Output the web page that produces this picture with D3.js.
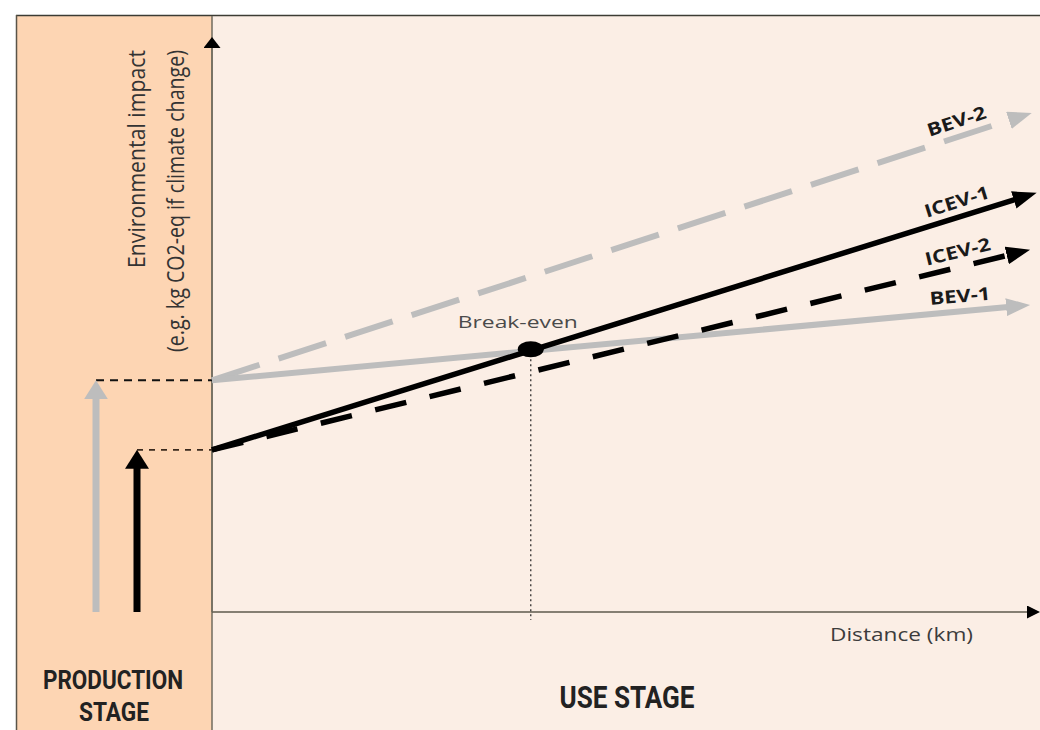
<!DOCTYPE html>
<html>
<head>
<meta charset="utf-8">
<script src="https://cdn.jsdelivr.net/npm/d3@7"></script>
<style>
body { margin: 0; background: #fff; }
svg { display: block; }
</style>
</head>
<body>
<div id="chart"></div>
<script>
// use stage series: distance (0-100) vs impact (0-100), all start at the production value
var seriesNames = ["BEV-1", "BEV-2", "ICEV-1", "ICEV-2"];
var seriesType = ["BEV", "BEV", "ICEV", "ICEV"];
var endDistance = [98.8, 99.0, 99.6, 98.8];
var endImpact = [53.4, 86.8, 72.9, 63.0];

// production stage impact per vehicle type
var productionTypes = ["BEV", "ICEV"];
var productionImpact = [40.3, 28.2];

// break-even point (distance, impact)
var breakEven = [38.5, 45.7];

// styles, kept apart from the values
var seriesStyle = {
  "BEV-1": { color: "#bdbdbd", dash: null, width: 6 },
  "BEV-2": { color: "#bdbdbd", dash: "50,20", width: 6 },
  "ICEV-1": { color: "#000", dash: null, width: 5.5 },
  "ICEV-2": { color: "#000", dash: "32,24", width: 5.5 }
};
var labelLength = { "BEV-1": 61, "BEV-2": 61, "ICEV-1": 67, "ICEV-2": 67 };

var svgWidth = 1040;
var svgHeight = 730;
var panelTop = 16;
var panelLeft = 17;
var divider = 212;

var svg = d3.select("#chart")
  .append("svg")
  .attr("width", svgWidth)
  .attr("height", svgHeight);

//scales
var xScale = d3.scaleLinear().domain([0, 100]).range([divider, 1040]);
var yScale = d3.scaleLinear().domain([0, 100]).range([612, 37]);
var prodX = d3.scalePoint().domain(productionTypes).range([96, 137]);

var defs = svg.append("defs");
function addMarker(id, color, w, h, refX) {
  defs.append("marker")
    .attr("id", id)
    .attr("viewBox", `0 0 ${w} ${h}`)
    .attr("markerWidth", w)
    .attr("markerHeight", h)
    .attr("refX", refX)
    .attr("refY", h / 2)
    .attr("orient", "auto")
    .attr("markerUnits", "userSpaceOnUse")
    .append("path")
    .attr("d", `M0,0 L${w},${h / 2} L0,${h} Z`)
    .attr("fill", color);
}
addMarker("headGray", "#bdbdbd", 24, 18, 10);
addMarker("headBlack", "#000", 24, 18, 10);
addMarker("prodGray", "#bdbdbd", 19, 24, 5);
addMarker("prodBlack", "#000", 19, 24, 5);
addMarker("axisHead", "#000", 13, 13, 1);
addMarker("axisHeadY", "#000", 11, 17, 1);

//panels
svg.append("rect")
  .attr("x", panelLeft).attr("y", panelTop)
  .attr("width", divider - panelLeft).attr("height", svgHeight - panelTop)
  .attr("fill", "#fdd5b3");
svg.append("rect")
  .attr("x", divider).attr("y", panelTop)
  .attr("width", svgWidth - divider).attr("height", svgHeight - panelTop)
  .attr("fill", "#fbeee5");

svg.append("line")
  .attr("x1", panelLeft - 1).attr("x2", svgWidth)
  .attr("y1", panelTop - 0.5).attr("y2", panelTop - 0.5)
  .attr("stroke", "#3c3c34").attr("stroke-width", 1.6);
svg.append("line")
  .attr("x1", panelLeft - 0.5).attr("x2", panelLeft - 0.5)
  .attr("y1", panelTop - 1).attr("y2", svgHeight)
  .attr("stroke", "#5a5448").attr("stroke-width", 1.5);
svg.append("line")
  .attr("x1", divider).attr("x2", divider)
  .attr("y1", panelTop).attr("y2", svgHeight)
  .attr("stroke", "#716b5e").attr("stroke-width", 1.5);

//axes
svg.append("line")
  .attr("x1", xScale(0)).attr("x2", xScale(100) - 12)
  .attr("y1", yScale(0)).attr("y2", yScale(0))
  .attr("stroke", "#5e5a4c").attr("stroke-width", 1.5)
  .attr("marker-end", "url(#axisHead)");
svg.append("line")
  .attr("x1", xScale(0)).attr("x2", xScale(0))
  .attr("y1", yScale(0)).attr("y2", yScale(100) + 10)
  .attr("stroke", "#716b5e").attr("stroke-width", 1.5)
  .attr("marker-end", "url(#axisHeadY)");

//break-even guide
svg.append("line")
  .attr("x1", xScale(breakEven[0])).attr("x2", xScale(breakEven[0]))
  .attr("y1", yScale(breakEven[1])).attr("y2", yScale(0) + 8)
  .attr("stroke", "#222").attr("stroke-width", 1.2)
  .attr("stroke-dasharray", "2,3");

//production stage arrows and connectors
productionTypes.forEach(function(t, i) {
  var x = prodX(t);
  var y = yScale(productionImpact[i]);
  svg.append("line")
    .attr("x1", x).attr("x2", xScale(0))
    .attr("y1", y).attr("y2", y)
    .attr("stroke", t === "BEV" ? "#111" : "#3a2a1e")
    .attr("stroke-width", t === "BEV" ? 2 : 1.6)
    .attr("stroke-dasharray", t === "BEV" ? "8,6" : "6,6");
  svg.append("line")
    .attr("x1", x).attr("x2", x)
    .attr("y1", yScale(0)).attr("y2", y + 14)
    .attr("stroke", t === "BEV" ? "#bdbdbd" : "#000")
    .attr("stroke-width", 7)
    .attr("marker-end", t === "BEV" ? "url(#prodGray)" : "url(#prodBlack)");
});

//use stage lines, drawn back to front
var order = [1, 0, 3, 2];
order.forEach(function(i) {
  var name = seriesNames[i];
  var st = seriesStyle[name];
  var start = productionImpact[productionTypes.indexOf(seriesType[i])];
  var x0 = xScale(0), y0 = yScale(start);
  var x1 = xScale(endDistance[i]), y1 = yScale(endImpact[i]);
  var len = Math.hypot(x1 - x0, y1 - y0);
  var ux = (x1 - x0) / len, uy = (y1 - y0) / len;
  svg.append("line")
    .attr("x1", x0).attr("y1", y0)
    .attr("x2", x1 - ux * 14).attr("y2", y1 - uy * 14)
    .attr("stroke", st.color)
    .attr("stroke-width", st.width)
    .attr("stroke-dasharray", st.dash)
    .attr("marker-end", st.color === "#000" ? "url(#headBlack)" : "url(#headGray)");

  // label above the line near its end
  var lx = xScale(90.5);
  var ly = y0 + (lx - x0) * (y1 - y0) / (x1 - x0);
  var angle = Math.atan2(y1 - y0, x1 - x0) * 180 / Math.PI;
  svg.append("text")
    .attr("transform", `translate(${lx},${ly}) rotate(${angle})`)
    .attr("y", -9)
    .attr("text-anchor", "middle")
    .attr("font-family", "'Open Sans', sans-serif")
    .attr("font-weight", "bold")
    .attr("font-size", 18)
    .attr("fill", "#1a1a1a")
    .attr("textLength", labelLength[name])
    .attr("lengthAdjust", "spacingAndGlyphs")
    .text(name);
});

//break-even point
svg.append("ellipse")
  .attr("cx", xScale(breakEven[0]))
  .attr("cy", yScale(breakEven[1]))
  .attr("rx", 13).attr("ry", 8)
  .attr("fill", "#000");
svg.append("text")
  .attr("x", xScale(breakEven[0]) - 13)
  .attr("y", 328)
  .attr("text-anchor", "middle")
  .attr("font-family", "'Open Sans', sans-serif")
  .attr("font-size", 17)
  .attr("fill", "#4a4a4a")
  .attr("textLength", 120)
  .attr("lengthAdjust", "spacingAndGlyphs")
  .text("Break-even");

//axis labels
svg.append("text")
  .attr("x", 830).attr("y", 641)
  .attr("font-family", "'Open Sans', sans-serif")
  .attr("font-size", 19)
  .attr("fill", "#3c3c3c")
  .attr("textLength", 143)
  .attr("lengthAdjust", "spacingAndGlyphs")
  .text("Distance (km)");

var yLabels = [
  { text: "Environmental impact", x: 145, len: 218 },
  { text: "(e.g. kg CO2-eq if climate change)", x: 184, len: 302 }
];
yLabels.forEach(function(l) {
  svg.append("text")
    .attr("transform", `translate(${l.x},50) rotate(-90)`)
    .attr("text-anchor", "end")
    .attr("font-family", "'Open Sans', sans-serif")
    .attr("font-size", 24)
    .attr("fill", "#333")
    .attr("textLength", l.len)
    .attr("lengthAdjust", "spacingAndGlyphs")
    .text(l.text);
});

//stage labels
var stageLabels = [
  { text: "PRODUCTION", x: 113, y: 689, len: 140, size: 26 },
  { text: "STAGE", x: 114, y: 721, len: 70, size: 26 },
  { text: "USE STAGE", x: 627, y: 708, len: 135, size: 31 }
];
stageLabels.forEach(function(l) {
  svg.append("text")
    .attr("x", l.x).attr("y", l.y)
    .attr("text-anchor", "middle")
    .attr("font-family", "Roboto, 'DejaVu Sans Condensed', sans-serif")
    .attr("font-weight", "bold")
    .attr("font-size", l.size)
    .attr("fill", "#222")
    .attr("textLength", l.len)
    .attr("lengthAdjust", "spacingAndGlyphs")
    .text(l.text);
});
</script>
</body>
</html>
